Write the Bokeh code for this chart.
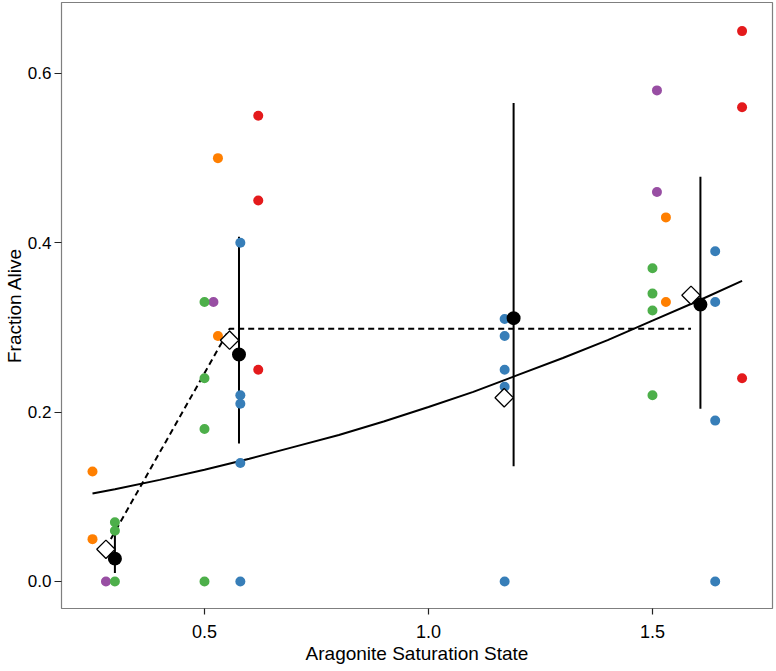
import math
from bokeh.plotting import figure
from bokeh.models import Range1d, FixedTicker
from bokeh.embed import file_html
from bokeh.resources import INLINE

# ---- data ----
red_x = [0.62, 0.62, 0.62, 1.70, 1.70, 1.70]
red_y = [0.55, 0.45, 0.25, 0.65, 0.56, 0.24]

blue_x = [0.58, 0.58, 0.58, 0.58, 0.58, 1.17, 1.17, 1.17, 1.17, 1.17, 1.64, 1.64, 1.64, 1.64]
blue_y = [0.40, 0.22, 0.21, 0.14, 0.00, 0.31, 0.29, 0.25, 0.23, 0.00, 0.39, 0.33, 0.19, 0.00]

green_x = [0.30, 0.30, 0.30, 0.50, 0.50, 0.50, 0.50, 1.50, 1.50, 1.50, 1.50]
green_y = [0.07, 0.06, 0.00, 0.33, 0.24, 0.18, 0.00, 0.37, 0.34, 0.32, 0.22]

purple_x = [0.28, 0.52, 1.51, 1.51]
purple_y = [0.00, 0.33, 0.58, 0.46]

orange_x = [0.25, 0.25, 0.53, 0.53, 1.53, 1.53]
orange_y = [0.13, 0.05, 0.50, 0.29, 0.43, 0.33]

mean_x = [0.30, 0.577, 1.19, 1.607]
mean_y = [0.027, 0.268, 0.311, 0.327]
ci_low = [0.010, 0.163, 0.136, 0.204]
ci_high = [0.070, 0.407, 0.565, 0.478]

diam_x = [0.28, 0.556, 1.169, 1.586]
diam_y = [0.038, 0.285, 0.217, 0.338]

brk_x = [0.28, 0.556, 1.586]
brk_y = [0.040, 0.2985, 0.2985]

fit_x = [0.25, 0.30, 0.40, 0.50, 0.60, 0.70, 0.80, 0.90, 1.00,
         1.10, 1.20, 1.30, 1.40, 1.50, 1.60, 1.70]
fit_y = [0.104, 0.109, 0.120, 0.132, 0.145, 0.159, 0.173, 0.189, 0.206,
         0.224, 0.244, 0.264, 0.285, 0.308, 0.331, 0.355]

x_ticks = [0.5, 1.0, 1.5]
y_ticks = [0.0, 0.2, 0.4, 0.6]

FONT = "Liberation Sans"

p = figure(width=776, height=671, output_backend="svg", toolbar_location=None,
           x_range=Range1d(0.1808, 1.7679), y_range=Range1d(-0.0319, 0.6838),
           min_border_left=61, min_border_right=4, min_border_top=2, min_border_bottom=63)
p.xgrid.visible = False
p.ygrid.visible = False
p.outline_line_color = "#7f7f7f"
p.outline_line_width = 1.2
p.background_fill_color = "white"
p.border_fill_color = "white"

for ax in (p.xaxis[0], p.yaxis[0]):
    ax.axis_line_color = None
    ax.major_tick_line_color = "#222222"
    ax.major_tick_line_width = 1.2
    ax.minor_tick_line_color = None
    ax.major_tick_in = 0
    ax.major_label_text_font = FONT
    ax.major_label_text_color = "black"
    ax.axis_label_text_font = FONT
    ax.axis_label_text_font_style = "normal"
    ax.axis_label_text_color = "black"

p.xaxis.major_label_text_font_size = "18px"
p.yaxis.major_label_text_font_size = "17px"
p.xaxis.axis_label_text_font_size = "19px"
p.yaxis.axis_label_text_font_size = "19px"

p.xaxis.ticker = FixedTicker(ticks=x_ticks)
p.yaxis.ticker = FixedTicker(ticks=y_ticks)
p.xaxis.major_label_overrides = {v: f"{v:.1f}" for v in x_ticks}
p.yaxis.major_label_overrides = {v: f"{v:.1f}" for v in y_ticks}
p.xaxis.major_tick_out = 6
p.yaxis.major_tick_out = 7
p.xaxis.major_label_standoff = 10
p.yaxis.major_label_standoff = 3
p.xaxis.axis_label = "Aragonite Saturation State"
p.yaxis.axis_label = "Fraction Alive"
p.xaxis.axis_label_standoff = 2
p.yaxis.axis_label_standoff = 0

# error bars
p.segment(x0=mean_x, y0=ci_low, x1=mean_x, y1=ci_high, line_color="black", line_width=2)

# fitted curve and broken-stick line
p.line(fit_x, fit_y, line_color="black", line_width=2)
p.line(brk_x, brk_y, line_color="black", line_width=2, line_dash="6 4")

# raw points
for xs, ys, c in [(orange_x, orange_y, "#FF7F00"), (purple_x, purple_y, "#984EA3"),
                  (green_x, green_y, "#4DAF4A"), (blue_x, blue_y, "#377EB8"),
                  (red_x, red_y, "#E41A1C")]:
    p.scatter(xs, ys, marker="circle", size=10, fill_color=c, line_color=None)

# medians (diamonds) and means
p.scatter(diam_x, diam_y, marker="square", size=13, angle=math.pi / 4,
          fill_color="white", line_color="black", line_width=1.3)
p.scatter(mean_x, mean_y, marker="circle", size=14, fill_color="black", line_color=None)

open("out.html", "w").write(file_html(p, INLINE))
